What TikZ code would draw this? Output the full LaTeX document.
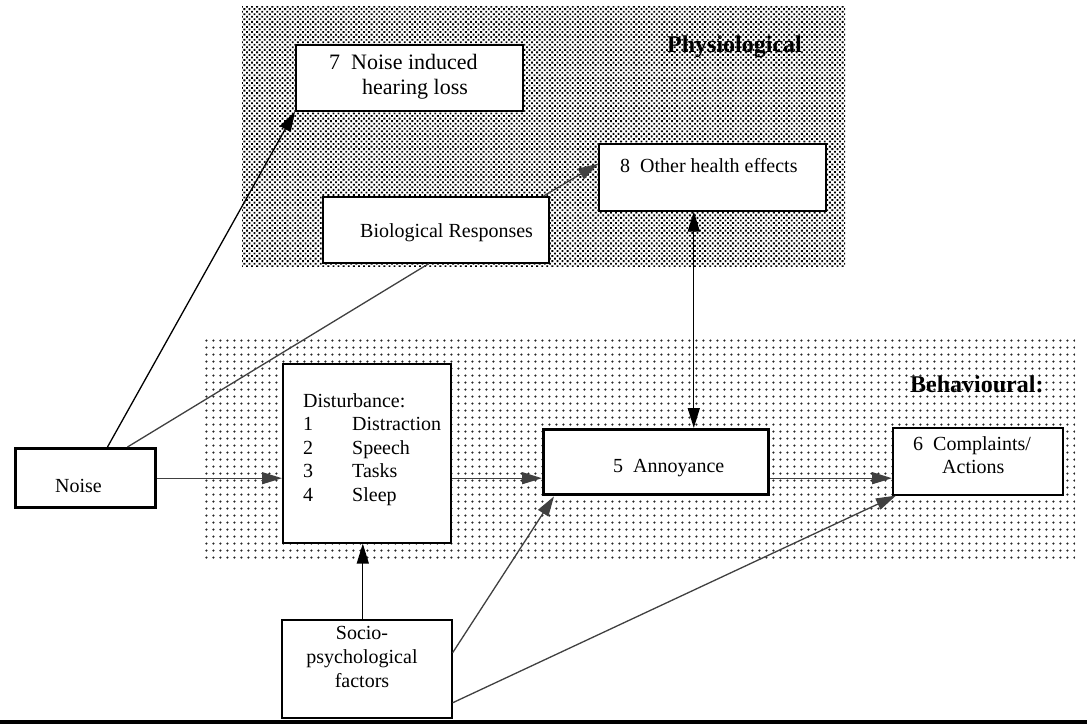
\documentclass[tikz,border=0pt]{standalone}
\usepackage{fontspec}
\setmainfont{Liberation Serif}
\usetikzlibrary{patterns.meta,arrows.meta,calc}
\begin{document}
\begin{tikzpicture}[x=1pt,y=-1pt,
  box/.style={draw=black, line width=1.6pt, fill=white, rectangle, inner sep=0pt, anchor=north west},
  thickbox/.style={box, line width=3.4pt},
  txt/.style={inner sep=0pt, anchor=base west, font=\fontsize{20}{24}\selectfont},
  bigtxt/.style={txt, font=\fontsize{22}{26}\selectfont},
  head/.style={inner sep=0pt, anchor=base west, font=\fontsize{24}{28}\selectfont\bfseries},
  con/.style={draw=black!75, line width=1.3pt},
  arr/.style={con, -{Triangle[length=20pt,width=12pt]}},
  darr/.style={con, {Triangle[length=20pt,width=12pt]}-{Triangle[length=20pt,width=12pt]}}
]
\useasboundingbox (0,0) rectangle (1087,727);
\fill[white] (0,0) rectangle (1087,727);

% shaded regions
\fill[pattern={Dots[distance=3.6pt, radius=1.3pt, angle=45]}, pattern color=black] (242,7) rectangle (845,267);
\fill[pattern={Dots[distance=7.4pt, radius=1.3pt]}, pattern color=black!85] (202,338) rectangle (1075,562);

\node[head] (phys) at (667,53) {Physiological};
\node[head] (behav) at (910,392) {Behavioural:};

% boxes
\node[box, minimum width=227pt, minimum height=66pt] (b7) at (295,44) {};
\node[box, minimum width=227pt, minimum height=67pt] (b8) at (598,143) {};
\node[box, minimum width=226pt, minimum height=66pt] (bio) at (322,196) {};
\node[thickbox, minimum width=140pt, minimum height=59pt] (noise) at (13.5,447) {};
\node[box, minimum width=168pt, minimum height=179pt] (dist) at (282,363) {};
\node[thickbox, minimum width=225pt, minimum height=65pt] (ann) at (542,428) {};
\node[box, minimum width=170pt, minimum height=67pt] (comp) at (892,427) {};
\node[box, minimum width=170pt, minimum height=98pt] (socio) at (281,619) {};

% texts
\node[bigtxt] (t7a) at (329,70) {7~ Noise induced};
\node[bigtxt] (t7b) at (362,95) {hearing loss};
\node[txt] (t8) at (620,173) {8~ Other health effects};
\node[txt] (tbio) at (360,238) {Biological Responses};
\node[txt] (tnoise) at (55,492) {Noise};
\node[txt] (td0) at (303,407) {Disturbance:};
\node[txt] (td1n) at (303,430) {1};
\node[txt] (td1) at (352,430) {Distraction};
\node[txt] (td2n) at (303,454) {2};
\node[txt] (td2) at (352,454) {Speech};
\node[txt] (td3n) at (303,477) {3};
\node[txt] (td3) at (352,477) {Tasks};
\node[txt] (td4n) at (303,501) {4};
\node[txt] (td4) at (352,501) {Sleep};
\node[txt] (tann) at (613,472) {5~ Annoyance};
\node[txt] (tc1) at (913,450) {6~ Complaints/};
\node[txt] (tc2) at (942,473) {Actions};
\node[txt, anchor=base] (ts1) at (362,639) {Socio-};
\node[txt, anchor=base] (ts2) at (362,663) {psychological};
\node[txt, anchor=base] (ts3) at (362,687) {factors};

% connectors
\draw[arr, draw=black] ([xshift=94pt]noise.north west) -- (b7.south west);
\draw[con] ([xshift=114pt]noise.north west) -- ([xshift=-7pt]bio.south);
\draw[arr] ([xshift=-6pt]bio.north east) -- ([yshift=13.5pt]b8.west);
\draw[arr] (noise.east) -- (noise.east -| dist.west);
\draw[arr] (noise.east -| dist.east) -- (noise.east -| ann.west);
\draw[arr] (noise.east -| ann.east) -- (noise.east -| comp.west);
\draw[darr, draw=black] ([xshift=-18.5pt]b8.south) -- ([xshift=-18.5pt]b8.south |- ann.north);
\draw[arr, draw=black] ([xshift=-4pt]socio.north) -- ([xshift=-4pt]socio.north |- dist.south);
\draw[arr] ([yshift=16pt]socio.east) -- ([xshift=12pt]ann.south west);
\draw[arr] ([yshift=-34pt]socio.east) -- ([xshift=4pt]comp.south west);

% bottom rule
\draw[line width=3.5pt] (0,722) -- (1087,722);
\end{tikzpicture}
\end{document}
